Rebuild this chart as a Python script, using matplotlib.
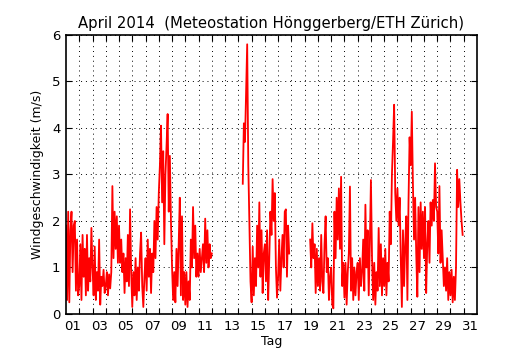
import numpy as np
import matplotlib as mpl
mpl.use("Agg")
import matplotlib.pyplot as plt

nan = np.nan
STEP_H = 2  # one reading every 2 hours, starting 1 April 00:00

# wind speed (m/s), one list per block of days
apr01_07 = [
    1.9, 0.3, 2.2, 0.25, 1.8, 2.2, 0.9, 1.9, 2.0, 0.5, 1.6, 0.4,
    0.6, 1.5, 0.3, 1.7, 0.8, 1.4, 0.4, 1.7, 0.5, 1.2, 0.7, 1.85,
    1.0, 0.4, 1.45, 0.3, 0.9, 0.5, 1.6, 0.2, 0.8, 0.6, 0.95, 0.45,
    0.6, 0.9, 0.4, 0.85, 0.55, 0.9, 2.75, 1.2, 2.2, 1.4, 2.1, 1.1,
    1.9, 1.1, 1.6, 0.9, 1.3, 0.45, 1.2, 0.7, 1.7, 0.6, 2.25, 0.9,
    0.15, 0.9, 0.4, 1.2, 0.3, 1.0, 0.5, 1.3, 1.75, 0.6, 0.15, 0.8,
    1.2, 0.5, 1.6, 0.8, 1.4, 0.45, 1.3, 0.9, 2.0, 1.2, 2.3, 1.6,
]
apr08_14 = [
    2.6, 3.2, 4.05, 2.4, 3.5, 1.5, 3.0, 3.6, 4.3, 2.2, 3.4, 2.0,
    1.0, 0.3, 0.9, 0.25, 1.4, 0.6, 1.5, 2.5, 0.4, 2.1, 0.3, 0.9,
    0.2, 0.9, 0.15, 0.7, 0.3, 1.6, 1.0, 2.3, 1.2, 1.9, 0.8, 1.3,
    0.8, 1.4, 0.9, 1.2, 1.5, 0.9, 2.05, 1.1, 1.8, 1.0, 1.5, 1.2,
    1.3, nan, nan, nan, nan, nan, nan, nan, nan, nan, nan, nan,
    nan, nan, nan, nan, nan, nan, nan, nan, nan, nan, nan, nan,
    nan, nan, nan, nan, 2.8, 4.1, 3.7, 4.75, 5.8, 3.2, 1.9, 0.7,
]
apr15_21 = [
    0.25, 1.45, 0.4, 1.2, 0.6, 1.9, 1.0, 2.4, 0.8, 1.8, 0.45, 1.3,
    1.5, 0.7, 1.8, 0.3, 1.2, 2.2, 1.7, 2.9, 2.0, 2.6, 1.0, 0.35,
    0.8, 1.6, 0.5, 1.2, 1.7, 1.0, 2.2, 2.25, 0.8, 1.9, 1.3, nan,
    nan, nan, nan, nan, nan, nan, nan, nan, nan, nan, nan, nan,
    nan, nan, nan, nan, nan, 1.6, 1.0, 1.95, 1.2, 1.5, 0.45, 1.4,
    0.6, 1.2, 0.5, 1.7, 0.7, 0.45, 1.5, 2.1, 0.9, 1.2, 0.3, 0.8,
    1.0, 0.2, 0.12, 2.2, 1.2, 2.5, 1.6, 2.7, 1.4, 2.95, 0.6, 1.1,
]
apr22_30 = [
    0.35, 1.1, 0.2, 0.9, 1.3, 2.74, 0.5, 1.2, 0.3, 1.0, 0.4, 0.9,
    1.1, 0.3, 1.2, 0.6, 0.9, 1.6, 0.5, 2.35, 1.0, 1.8, 0.4, 1.5,
    2.88, 1.2, 0.3, 1.1, 0.2, 0.9, 0.5, 1.85, 0.6, 1.5, 0.4, 1.2,
    0.6, 1.4, 0.4, 1.1, 0.7, 2.2, 1.5, 3.0, 3.7, 4.5, 2.6, 2.0,
    2.7, 1.9, 2.5, 1.2, 0.15, 1.8, 0.6, 1.5, 2.1, 0.3, 2.4, 3.8,
    3.2, 4.35, 2.8, 1.6, 2.5, 1.3, 0.37, 2.3, 0.9, 2.4, 1.4, 2.2,
    1.2, 2.3, 0.45, 1.5, 2.0, 1.1, 2.4, 1.9, 2.45, 2.0, 3.24, 2.3,
    2.2, 1.3, 2.75, 1.1, 1.8, 1.2, 0.6, 1.0, 0.5, 1.2, 0.3, 0.9,
    0.4, 0.95, 0.25, 0.8, 0.3, 1.0, 3.1, 2.3, 2.9, 2.4, 2.0, 1.7,
]

day_labels = ["%02d" % d for d in range(1, 32, 2)]

wind = np.array(apr01_07 + apr08_14 + apr15_21 + apr22_30)
t_days = np.arange(len(wind)) * STEP_H / 24.0   # days since 1 April 00:00

plt.rcParams.update({
    "font.family": "DejaVu Sans",
    "xtick.direction": "in",
    "ytick.direction": "in",
    "xtick.top": True,
    "ytick.right": True,
    "xtick.major.size": 4,
    "ytick.major.size": 4,
})

fig = plt.figure(figsize=(5.3, 3.5), dpi=100, facecolor="white")
ax = fig.add_axes([0.1245, 0.103, 0.7755, 0.797])

ax.plot(t_days, wind, color="#ff0000", lw=1.3)

ax.set_xlim(0, 31)
ax.set_ylim(0, 6)
ax.set_yticks(range(0, 7))
# day boundaries: tick marks + grid, no labels
ax.set_xticks(range(1, 31))
ax.set_xticklabels([])
# labels sit at noon of every second day
ax.set_xticks(np.arange(0.5, 31, 2), minor=True)
ax.set_xticklabels(day_labels, minor=True)
ax.tick_params(axis="x", which="minor", length=0, labelsize=9.5, pad=4)
ax.tick_params(axis="y", labelsize=9.5, pad=4)
ax.grid(True, which="major", color="black", ls=(0, (1, 4)), lw=0.7)

for s in ax.spines.values():
    s.set_linewidth(1.2)

ax.set_title("April 2014  (Meteostation Hönggerberg/ETH Zürich)",
             fontsize=10.7, pad=5)
ax.set_xlabel("Tag", fontsize=9, labelpad=2)
ax.set_ylabel("Windgeschwindigkeit (m/s)", fontsize=9, labelpad=6)

fig.savefig("out.png", dpi=100, facecolor="white")
